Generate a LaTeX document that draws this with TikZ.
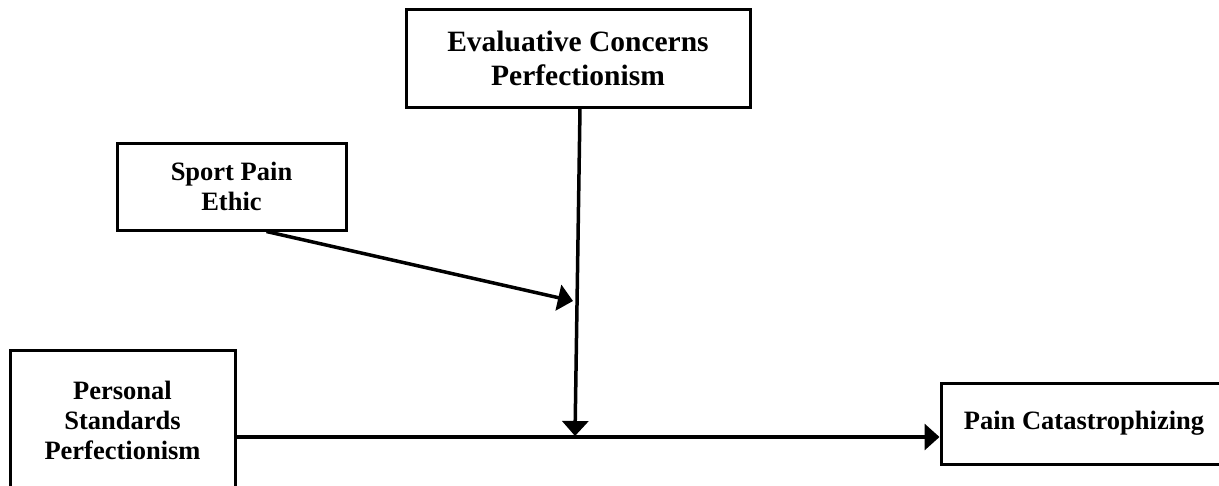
\documentclass[tikz,border=0pt]{standalone}
\usepackage{fontspec}
\setmainfont{Liberation Serif}
\usetikzlibrary{arrows.meta}
\begin{document}
\begin{tikzpicture}[x=1pt,y=-1pt,
  box/.style={draw=black,line width=3pt,rectangle,inner sep=0pt,align=center,
    font=\fontsize{26.5}{30}\selectfont\bfseries},
  conn/.style={line width=3.5pt,-{Triangle[length=15pt,width=26pt]}}]
\useasboundingbox (0,0) rectangle (1219,485);
\node[box,minimum width=344pt,minimum height=98pt,font=\fontsize{29.5}{34}\selectfont\bfseries] (ec) at (578,58) {Evaluative Concerns\\Perfectionism};
\node[box,minimum width=229pt,minimum height=87pt] (spe) at (231.5,186.5) {Sport Pain\\Ethic};
\node[box,minimum width=225pt,minimum height=140pt] (ps) at (122.5,420) {Personal\\Standards\\Perfectionism};
\node[box,minimum width=286pt,minimum height=81pt] (pc) at (1084,423.5) {Pain Catastrophizing};
\coordinate (m) at (575,436);
\coordinate (t) at (573,301);
\draw[conn] ([xshift=2pt]ec.south) -- (m);
\draw[conn] ([xshift=35pt]spe.south) -- (t);
\draw[conn] ([yshift=-17pt]ps.east) -- ([yshift=-13.5pt]pc.west);
\end{tikzpicture}
\end{document}
